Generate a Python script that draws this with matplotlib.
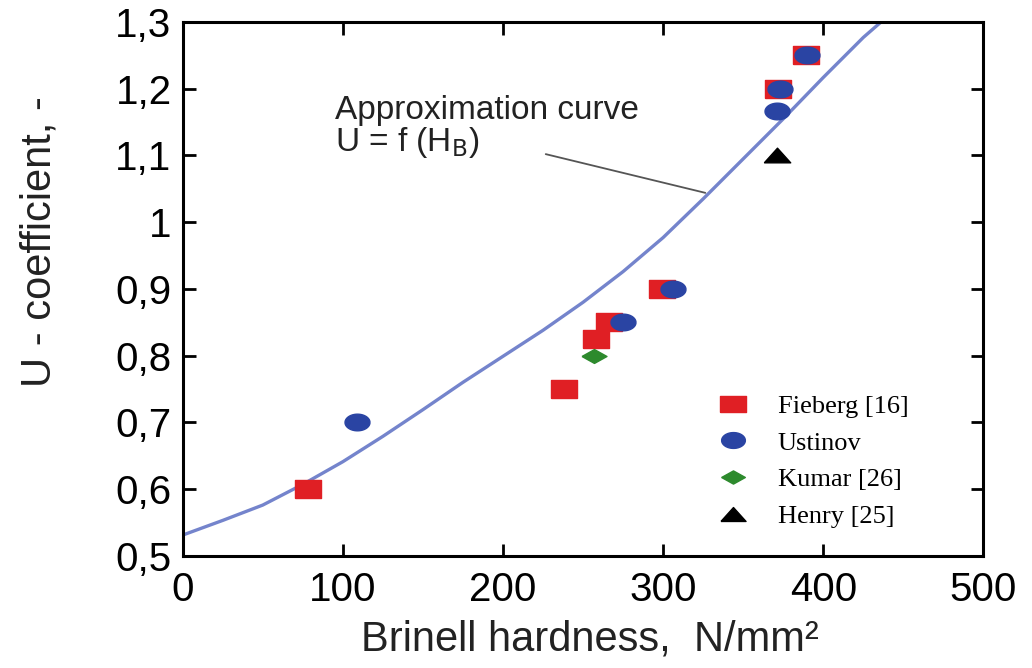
import numpy as np
import matplotlib
matplotlib.use("Agg")
import matplotlib.pyplot as plt

# data
fieberg_h = [78, 238, 258, 266, 299, 372, 389]
fieberg_u = [0.60, 0.75, 0.825, 0.85, 0.90, 1.20, 1.25]
ustinov_h = [109, 275, 306, 371, 373, 390]
ustinov_u = [0.70, 0.85, 0.90, 1.167, 1.20, 1.25]
kumar_h = [257]
kumar_u = [0.80]
henry_h = [371]
henry_u = [1.10]

# approximation curve U = f(HB), read every 25 units
curve_h = [0, 25, 50, 75, 100, 125, 150, 175, 200, 225, 250, 275,
           300, 325, 350, 375, 400, 425, 436]
curve_u = [0.531, 0.553, 0.576, 0.607, 0.641, 0.679, 0.719, 0.760, 0.799, 0.838,
           0.880, 0.926, 0.977, 1.035, 1.095, 1.155, 1.217, 1.277, 1.30]

x_ticks = [0, 100, 200, 300, 400, 500]
x_labels = ["0", "100", "200", "300", "400", "500"]
y_ticks = [0.5, 0.6, 0.7, 0.8, 0.9, 1.0, 1.1, 1.2, 1.3]
y_labels = ["0,5", "0,6", "0,7", "0,8", "0,9", "1", "1,1", "1,2", "1,3"]

plt.rcParams['font.family'] = ['Liberation Sans', 'DejaVu Sans']
plt.rcParams['mathtext.default'] = 'regular'

# markers are a bit wider than tall in the original
t = np.linspace(0, 2 * np.pi, 40)
ellipse = list(zip(1.5 * np.cos(t), np.sin(t)))
rect = [(-1.5, -1), (1.5, -1), (1.5, 1), (-1.5, 1), (-1.5, -1)]
diamond = [(-1.8, 0), (0, -1), (1.8, 0), (0, 1), (-1.8, 0)]
tri = [(-1.8, -1), (1.8, -1), (0, 1), (-1.8, -1)]

fig = plt.figure(figsize=(10.32, 6.68), dpi=100)
ax = fig.add_axes([0.177, 0.168, 0.776, 0.799])

ax.plot(curve_h, curve_u, color='#7484cc', lw=2.4, zorder=2,
        solid_joinstyle='round')
ax.plot(fieberg_h, fieberg_u, ls='none', marker=rect, ms=19, color='#e01f24',
        mec='#e01f24', label='Fieberg [16]', zorder=3)
ax.plot(ustinov_h, ustinov_u, ls='none', marker=ellipse, ms=18, color='#2a44a3',
        mec='#2a44a3', label='Ustinov', zorder=4)
ax.plot(kumar_h, kumar_u, ls='none', marker=diamond, ms=18, color='#2d8a2d',
        mec='#2d8a2d', label='Kumar [26]', zorder=4)
ax.plot(henry_h, henry_u, ls='none', marker=tri, ms=19, color='black',
        label='Henry [25]', zorder=4)

ax.annotate('', xy=(328, 1.043), xytext=(225, 1.103),
            arrowprops=dict(arrowstyle='-', color='#555555', lw=1.3))
ax.text(95, 1.19, 'Approximation curve\nU = f (H$_\\mathrm{B}$)', fontsize=24,
        va='top', ha='left', color='#222222', linespacing=0.95)

ax.set_xlim(0, 500)
ax.set_ylim(0.5, 1.3)
ax.set_xticks(x_ticks)
ax.set_xticklabels(x_labels)
ax.set_yticks(y_ticks)
ax.set_yticklabels(y_labels)
ax.tick_params(direction='in', length=9, width=2, labelsize=29, top=True, right=True)
ax.tick_params(axis='x', pad=11)
ax.tick_params(axis='y', pad=8)
for s in ax.spines.values():
    s.set_linewidth(2.2)

fig.text(590 / 1032, 1 - 640 / 668, 'Brinell hardness,  N/mm²', fontsize=30,
         ha='center', va='center', color='#222222')
fig.text(40 / 1032, 1 - 242 / 668, 'U - coefficient, -', fontsize=30,
         rotation=90, ha='center', va='center', color='#222222')

leg = ax.legend(loc='upper left', bbox_to_anchor=(0.651, 0.322), frameon=False,
                prop={'family': ['Liberation Serif'], 'size': 19},
                handletextpad=1.0, labelspacing=0.5, markerscale=0.95,
                handlelength=1.4, borderaxespad=0)

fig.savefig('out.png', dpi=100)
